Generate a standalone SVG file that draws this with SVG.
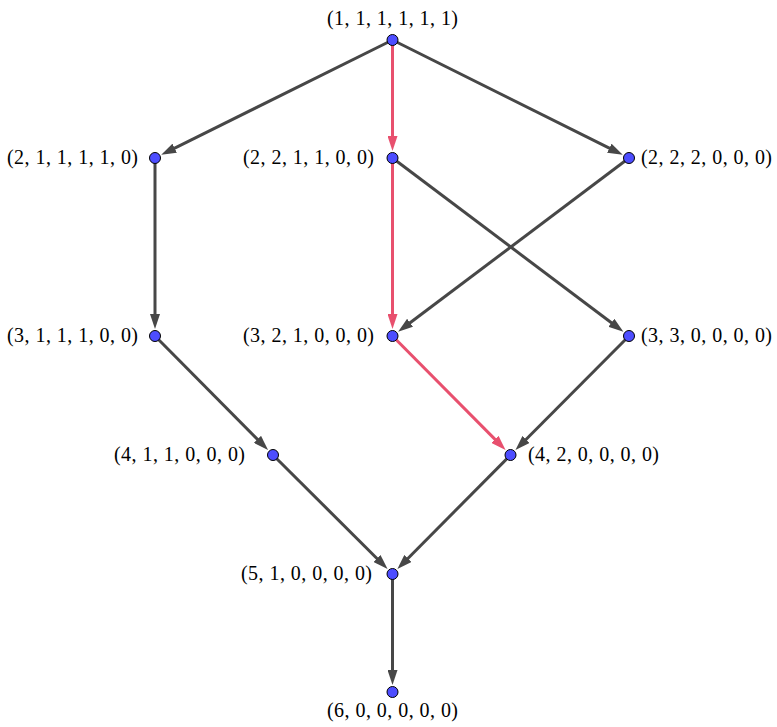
<svg xmlns="http://www.w3.org/2000/svg" width="777" height="727" viewBox="0 0 777 727">
  <style>
    .edge { stroke: #474747; stroke-width: 3; fill: none; marker-end: url(#arrowGray); }
    .edge.hl { stroke: #e8506e; marker-end: url(#arrowRed); }
    .node circle { fill: #4d4dff; stroke: #000; stroke-width: 1; }
    .node text { font-family: "Liberation Serif", "DejaVu Serif", serif; font-size: 20px; fill: #000; }
    .left text { text-anchor: end; }
    .right text { text-anchor: start; }
    .mid text { text-anchor: middle; }
  </style>
  <defs>
    <marker id="arrowGray" markerUnits="userSpaceOnUse" markerWidth="15" markerHeight="10" refX="5" refY="5" orient="auto">
      <path d="M0,0 L15,5 L0,10 z" fill="#474747"/>
    </marker>
    <marker id="arrowRed" markerUnits="userSpaceOnUse" markerWidth="15" markerHeight="10" refX="5" refY="5" orient="auto">
      <path d="M0,0 L15,5 L0,10 z" fill="#e8506e"/>
    </marker>
  </defs>

  <g id="edges">
    <line class="edge" x1="392.5" y1="40" x2="170.2" y2="150.4"/>
    <line class="edge" x1="392.5" y1="40" x2="613.8" y2="150.4"/>
    <line class="edge" x1="155" y1="158" x2="155" y2="319"/>
    <line class="edge" x1="392.5" y1="158" x2="615.4" y2="325.8"/>
    <line class="edge" x1="629" y1="158" x2="406.1" y2="325.8"/>
    <line class="edge" x1="155" y1="336" x2="261.0" y2="442.9"/>
    <line class="edge" x1="629" y1="336" x2="522.5" y2="443.0"/>
    <line class="edge" x1="273" y1="455" x2="380.5" y2="562.0"/>
    <line class="edge" x1="510.5" y1="455" x2="404.4" y2="562.0"/>
    <line class="edge" x1="392.5" y1="574" x2="392.5" y2="675"/>
    <line class="edge hl" x1="392.5" y1="40" x2="392.5" y2="141"/>
    <line class="edge hl" x1="392.5" y1="158" x2="392.5" y2="319"/>
    <line class="edge hl" x1="392.5" y1="336" x2="498.5" y2="442.9"/>
  </g>

  <g id="n111111" class="node mid">
    <circle cx="392.5" cy="40" r="5.5"/>
    <text x="392.5" y="25" textLength="131">(1, 1, 1, 1, 1, 1)</text>
  </g>
  <g id="n211110" class="node left">
    <circle cx="155" cy="158" r="5.5"/>
    <text x="138" y="164" textLength="131">(2, 1, 1, 1, 1, 0)</text>
  </g>
  <g id="n221100" class="node left">
    <circle cx="392.5" cy="158" r="5.5"/>
    <text x="374" y="164" textLength="131">(2, 2, 1, 1, 0, 0)</text>
  </g>
  <g id="n222000" class="node right">
    <circle cx="629" cy="158" r="5.5"/>
    <text x="641" y="164" textLength="131">(2, 2, 2, 0, 0, 0)</text>
  </g>
  <g id="n311100" class="node left">
    <circle cx="155" cy="336" r="5.5"/>
    <text x="138" y="342" textLength="131">(3, 1, 1, 1, 0, 0)</text>
  </g>
  <g id="n321000" class="node left">
    <circle cx="392.5" cy="336" r="5.5"/>
    <text x="374" y="342" textLength="131">(3, 2, 1, 0, 0, 0)</text>
  </g>
  <g id="n330000" class="node right">
    <circle cx="629" cy="336" r="5.5"/>
    <text x="641" y="342" textLength="131">(3, 3, 0, 0, 0, 0)</text>
  </g>
  <g id="n411000" class="node left">
    <circle cx="273" cy="455" r="5.5"/>
    <text x="245" y="461" textLength="131">(4, 1, 1, 0, 0, 0)</text>
  </g>
  <g id="n420000" class="node right">
    <circle cx="510.5" cy="455" r="5.5"/>
    <text x="528" y="461" textLength="131">(4, 2, 0, 0, 0, 0)</text>
  </g>
  <g id="n510000" class="node left">
    <circle cx="392.5" cy="574" r="5.5"/>
    <text x="372" y="580" textLength="131">(5, 1, 0, 0, 0, 0)</text>
  </g>
  <g id="n600000" class="node mid">
    <circle cx="392.5" cy="692" r="5.5"/>
    <text x="392.5" y="717" textLength="131">(6, 0, 0, 0, 0, 0)</text>
  </g>
</svg>
